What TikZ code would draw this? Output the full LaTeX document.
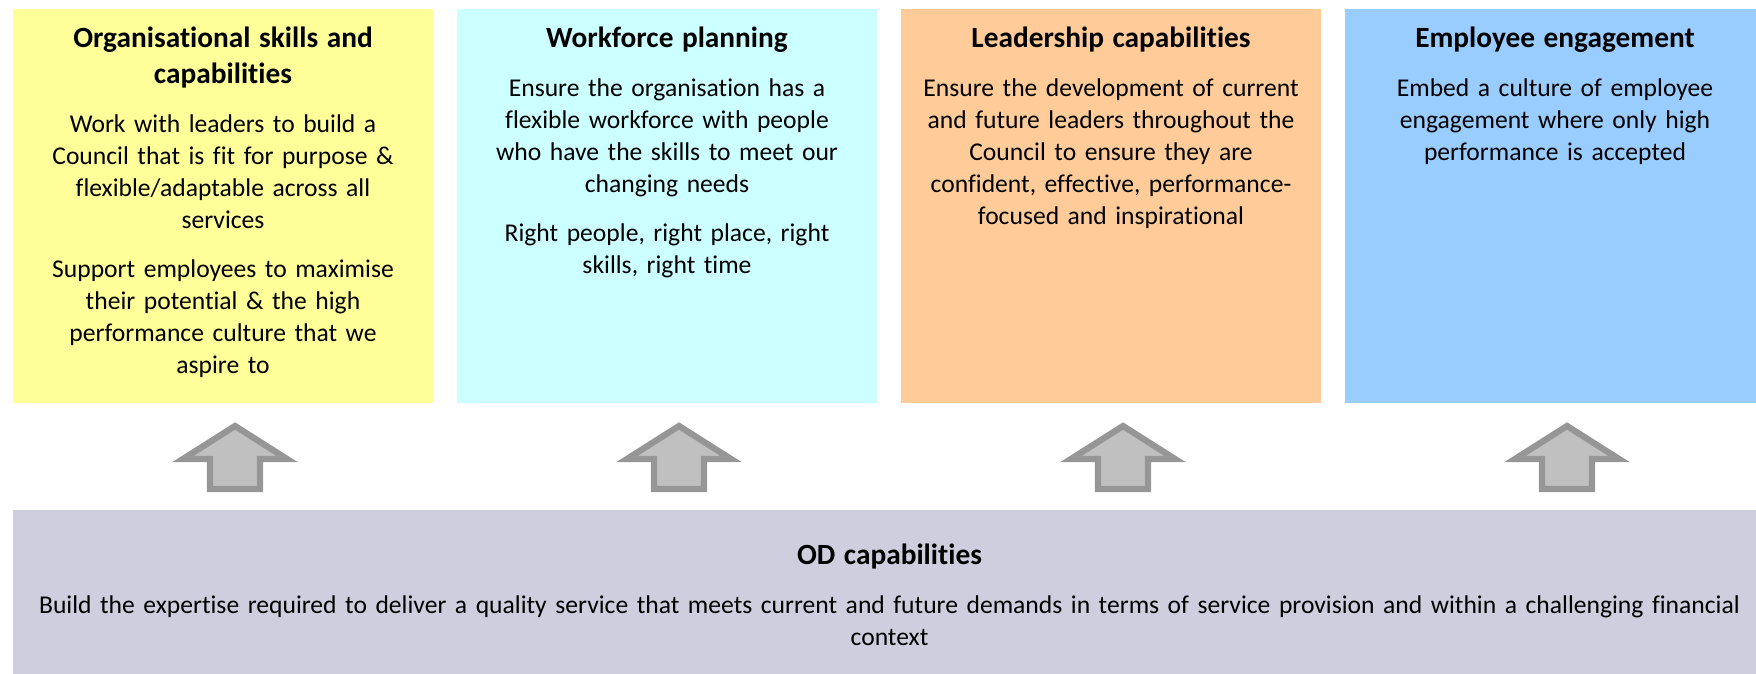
\documentclass[tikz,border=0pt]{standalone}
\usepackage{fontspec}
\setmainfont{Carlito}[Ligatures=NoCommon]
\usetikzlibrary{positioning}

\definecolor{orgyellow}{HTML}{FFFF99}
\definecolor{wfpcyan}{HTML}{CCFFFF}
\definecolor{leadorange}{HTML}{FFCC99}
\definecolor{engblue}{HTML}{99CCFF}
\definecolor{odgrey}{HTML}{CECEDE}
\definecolor{arrowline}{HTML}{969696}
\definecolor{arrowfill}{HTML}{C0C0C0}

% heading of a panel, then the gap before the body
\newcommand{\paneltitle}[1]{{\fontsize{22}{26.5}\selectfont\bfseries #1\par}\vskip12.75pt}
\newcommand{\paragap}{\par\vskip12.75pt}

\begin{document}
\begin{tikzpicture}[x=0.75pt,y=-0.75pt,
  panel/.style={anchor=north west,minimum width=315pt,minimum height=295.5pt,inner sep=0pt,outer sep=0pt},
  paneltext/.style={anchor=north,text width=300pt,align=center,inner sep=0pt,font=\fontsize{19.2}{24}\selectfont},
  blockarrow/.style={draw=arrowline,fill=arrowfill,line width=4.7pt,line join=miter}]

\useasboundingbox (0,0) rectangle (1756,674);

% the four panels along the top
\node[panel,fill=orgyellow] (org) at (13,9) {};
\node[panel,fill=wfpcyan,right=18pt of org] (wfp) {};
\node[panel,fill=leadorange,right=18pt of wfp] (lead) {};
\node[panel,fill=engblue,right=18pt of lead] (eng) {};

% base panel
\node[anchor=north west,minimum width=1314.75pt,minimum height=123pt,inner sep=0pt,outer sep=0pt,fill=odgrey] (od) at (13,510) {};

\node[paneltext] (org-txt) at ([yshift=-13.5pt]org.north) {
  \paneltitle{Organisational skills and\\capabilities}
  Work with leaders to build a\\Council that is fit for purpose \&\\flexible/adaptable across all\\services
  \paragap
  Support employees to maximise\\their potential \& the high\\performance culture that we\\aspire to};

\node[paneltext] (wfp-txt) at ([yshift=-13.5pt]wfp.north) {
  \paneltitle{Workforce planning}
  Ensure the organisation has a\\flexible workforce with people\\who have the skills to meet our\\changing needs
  \paragap
  Right people, right place, right\\skills, right time};

\node[paneltext] (lead-txt) at ([yshift=-13.5pt]lead.north) {
  \paneltitle{Leadership capabilities}
  Ensure the development of current\\and future leaders throughout the\\Council to ensure they are\\confident, effective, performance-\\focused and inspirational};

\node[paneltext] (eng-txt) at ([yshift=-13.5pt]eng.north) {
  \paneltitle{Employee engagement}
  Embed a culture of employee\\engagement where only high\\performance is accepted};

\node[paneltext,text width=1300pt] (od-txt) at ([yshift=-25.5pt]od.north) {
  \paneltitle{OD capabilities}
  Build the expertise required to deliver a quality service that meets current and future demands in terms of service provision and within a challenging financial\\context};

% block arrows from the base up to each panel
\coordinate (mid) at (0,457);
\foreach \p in {org,wfp,lead,eng} {
  \path (\p.south |- mid) ++(12,0) coordinate (\p-up);
  \draw[blockarrow,shift={(\p-up)}] (0,-31) -- (52,2) -- (25,2) -- (25,32)
    -- (-25,32) -- (-25,2) -- (-52,2) -- cycle;
}

\end{tikzpicture}
\end{document}
